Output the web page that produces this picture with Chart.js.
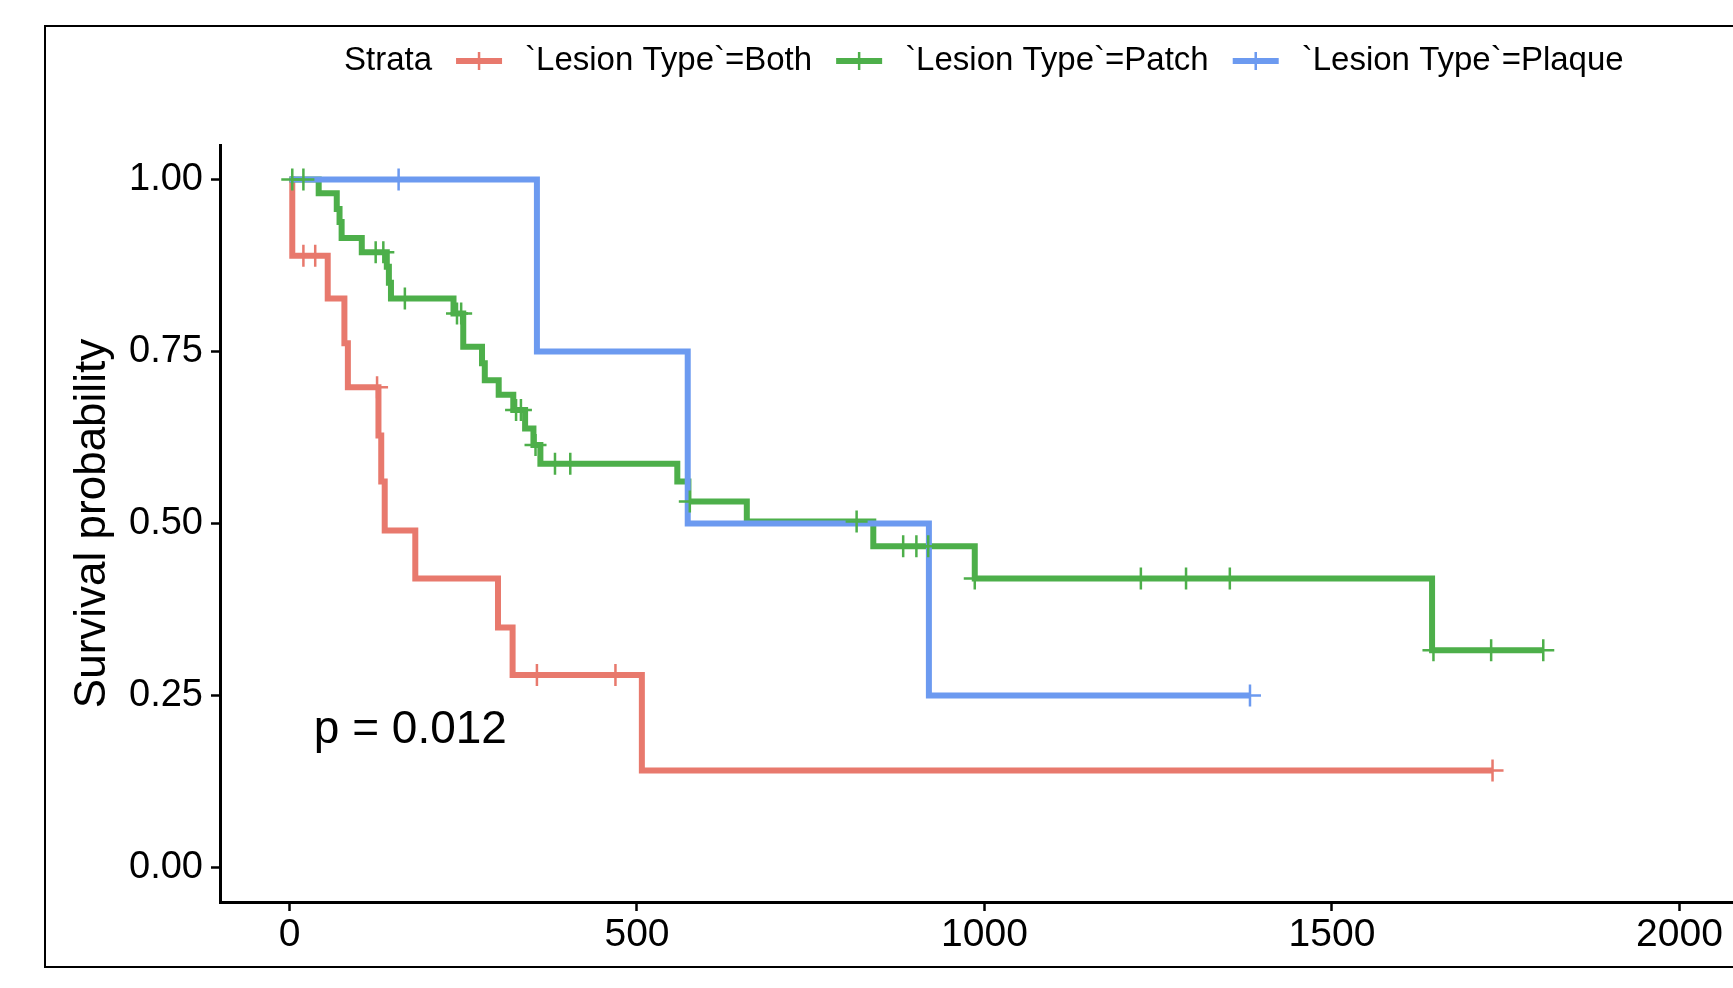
<!DOCTYPE html>
<html lang="en">
<head>
<meta charset="UTF-8">
<title>Survival probability by lesion type</title>
<script src="https://cdn.jsdelivr.net/npm/chart.js"></script>
<style>
body { margin: 0; padding: 0; background: #fff; overflow: hidden; }
#frame {
  position: absolute; left: 44px; top: 25px;
  width: 1800px; height: 939px;
  border: 2px solid #000;
}
#km { position: absolute; left: 0; top: 0; }
</style>
</head>
<body>
<div id="frame"></div>
<canvas id="km" width="1733" height="988"></canvas>

<script>
// series names and legend
const legendTitle = 'Strata';
const strata = ['`Lesion Type`=Both', '`Lesion Type`=Patch', '`Lesion Type`=Plaque'];

// step curves (time, survival after event)
const bothTimes = [0, 4, 55, 79, 84, 128, 132, 137, 181, 300, 321, 507, 1731];
const bothSurv  = [1, 0.889, 0.827, 0.762, 0.698, 0.628, 0.561, 0.490, 0.420, 0.349, 0.280, 0.141, 0.141];
const bothCensorT = [20, 37, 126, 356, 469, 1731];
const bothCensorS = [0.889, 0.889, 0.698, 0.280, 0.280, 0.141];

const patchTimes = [0, 42, 68, 72, 75, 104, 140, 143, 146, 236, 250, 277, 281, 301, 322, 339, 351, 361, 558, 574, 658, 840, 986, 1644, 1804];
const patchSurv  = [1, 0.980, 0.957, 0.938, 0.915, 0.894, 0.873, 0.850, 0.827, 0.805, 0.757, 0.733, 0.708, 0.687, 0.665, 0.638, 0.614, 0.587, 0.561, 0.532, 0.503, 0.467, 0.420, 0.316, 0.316];
const patchCensorT = [4, 20, 124, 135, 166, 241, 247, 326, 333, 354, 382, 404, 576, 816, 883, 902, 919, 986, 1225, 1290, 1353, 1646, 1729, 1804];
const patchCensorS = [1, 1, 0.894, 0.894, 0.827, 0.805, 0.805, 0.665, 0.665, 0.614, 0.587, 0.587, 0.532, 0.503, 0.467, 0.467, 0.467, 0.420, 0.420, 0.420, 0.420, 0.316, 0.316, 0.316];

const plaqueTimes = [0, 356, 573, 920, 1382];
const plaqueSurv  = [1, 0.75, 0.50, 0.25, 0.25];
const plaqueCensorT = [157, 1382];
const plaqueCensorS = [1, 0.25];

// axes
const xTicks = [0, 500, 1000, 1500, 2000];
const xTickLabels = ['0', '500', '1000', '1500', '2000'];
const yTicks = [0, 0.25, 0.5, 0.75, 1];
const yTickLabels = ['0.00', '0.25', '0.50', '0.75', '1.00'];
const pLabel = 'p = 0.012';

const colors = ['#E8796D', '#4DAF4A', '#6C9AF0'];
const FONT = '"Liberation Sans", Arial, Helvetica, sans-serif';

const pts = (ts, ss) => ts.map((t, i) => ({ x: t, y: ss[i] }));

const curves = [
  pts(bothTimes, bothSurv),
  pts(patchTimes, patchSurv),
  pts(plaqueTimes, plaqueSurv)
];
const censors = [
  pts(bothCensorT, bothCensorS),
  pts(patchCensorT, patchCensorS),
  pts(plaqueCensorT, plaqueCensorS)
];

const datasets = [];
strata.forEach((name, i) => {
  datasets.push({
    label: name,
    data: curves[i],
    borderColor: colors[i],
    borderWidth: 6,
    stepped: true,
    pointRadius: 0,
    fill: false,
    order: 3 - i
  });
});
strata.forEach((name, i) => {
  datasets.push({
    label: name + ' censored',
    data: censors[i],
    showLine: false,
    pointStyle: 'cross',
    pointRadius: 11,
    pointBorderWidth: 2.5,
    borderColor: colors[i],
    order: 0
  });
});

// legend row, p value
const kmText = {
  id: 'kmText',
  afterDraw(chart) {
    const ctx = chart.ctx;
    ctx.save();
    ctx.font = '33px ' + FONT;
    ctx.textBaseline = 'middle';
    ctx.fillStyle = '#000';
    const y = 61;
    let x = 344;
    ctx.fillText(legendTitle, x, y);
    x += ctx.measureText(legendTitle).width + 24;
    strata.forEach((name, i) => {
      ctx.strokeStyle = colors[i];
      ctx.lineWidth = 6;
      ctx.beginPath(); ctx.moveTo(x, y); ctx.lineTo(x + 46, y); ctx.stroke();
      ctx.lineWidth = 2.5;
      ctx.beginPath(); ctx.moveTo(x + 23, y - 9); ctx.lineTo(x + 23, y + 9); ctx.stroke();
      x += 46 + 23;
      ctx.fillStyle = '#000';
      ctx.fillText(name, x, y);
      x += ctx.measureText(name).width + 24;
    });

    const xs = chart.scales.x, ys = chart.scales.y;
    ctx.font = '46px ' + FONT;
    ctx.fillText(pLabel, xs.getPixelForValue(35), ys.getPixelForValue(0.2));
    ctx.restore();
  }
};

const axisGrid = {
  display: true,
  drawOnChartArea: false,
  drawTicks: true,
  tickLength: 9,
  tickWidth: 2.5,
  tickColor: '#000'
};

new Chart(document.getElementById('km'), {
  type: 'line',
  data: { datasets: datasets },
  options: {
    responsive: false,
    animation: false,
    devicePixelRatio: 1,
    layout: { autoPadding: false, padding: { top: 145, left: 0, right: 0, bottom: 0 } },
    plugins: {
      legend: { display: false },
      tooltip: { enabled: false }
    },
    scales: {
      x: {
        type: 'linear',
        min: -100,
        max: 2077,
        afterBuildTicks: s => { s.ticks = xTicks.map(v => ({ value: v })); },
        afterFit: s => { s.height = 86; s.paddingRight = 0; },
        ticks: {
          color: '#000',
          font: { family: FONT, size: 39 },
          padding: 1,
          maxRotation: 0,
          callback: v => xTickLabels[xTicks.indexOf(v)]
        },
        grid: axisGrid,
        border: { display: true, color: '#000', width: 3 }
      },
      y: {
        type: 'linear',
        min: -0.05,
        max: 1.05,
        afterBuildTicks: s => { s.ticks = yTicks.map(v => ({ value: v })); },
        afterFit: s => { s.width = 220; },
        ticks: {
          color: '#000',
          font: { family: FONT, size: 38 },
          padding: 8,
          callback: v => yTickLabels[yTicks.indexOf(v)]
        },
        grid: axisGrid,
        border: { display: true, color: '#000', width: 3 },
        title: {
          display: true,
          text: 'Survival probability',
          color: '#000',
          font: { family: FONT, size: 44 },
          padding: { top: 66, bottom: 0 }
        }
      }
    }
  },
  plugins: [kmText]
});
</script>
</body>
</html>
